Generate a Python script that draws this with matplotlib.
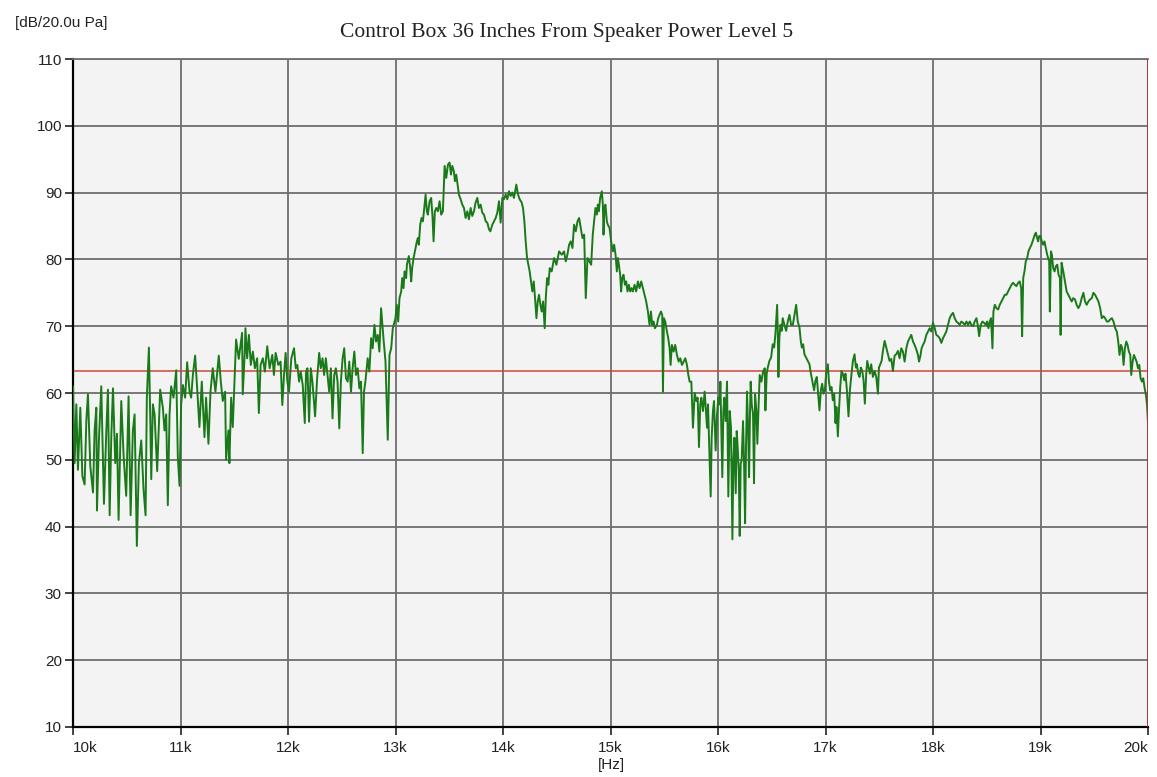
import numpy as np
import matplotlib
matplotlib.use("Agg")
import matplotlib.pyplot as plt

# Schalldruckpegel ueber der Frequenz, Frequenz in kHz, Pegel in dB re 20 uPa
freq_10k = [10.000, 10.015, 10.031, 10.046, 10.068, 10.087, 10.108, 10.124, 10.139, 10.161,
            10.186, 10.201, 10.217, 10.223, 10.241, 10.263, 10.288, 10.310, 10.325, 10.341,
            10.356, 10.372, 10.393, 10.409, 10.424, 10.449, 10.471, 10.495, 10.517, 10.536,
            10.557, 10.573, 10.594, 10.613, 10.635, 10.656, 10.675, 10.687, 10.706, 10.718,
            10.728, 10.743, 10.759, 10.783, 10.811, 10.836, 10.851, 10.867, 10.882, 10.898,
            10.913, 10.935, 10.960, 10.975, 10.991, 11.006, 11.022, 11.043, 11.062, 11.084,
            11.099, 11.115, 11.136, 11.155, 11.176, 11.198, 11.223, 11.238, 11.260, 11.279,
            11.300, 11.325, 11.356, 11.375, 11.393, 11.415, 11.424, 11.446, 11.455, 11.471,
            11.486, 11.502, 11.517, 11.542, 11.573, 11.579, 11.598]
level_10k = [61.0, 49.5, 58.3, 48.5, 57.8, 47.6, 46.3, 55.9, 59.8, 49.0,
             45.1, 54.4, 57.8, 42.4, 52.9, 61.0, 43.4, 54.4, 60.5, 41.7,
             53.4, 60.7, 49.5, 53.9, 41.0, 58.8, 50.5, 44.6, 59.5, 41.7,
             54.4, 56.8, 37.1, 49.5, 52.9, 45.6, 41.7, 59.3, 66.8, 56.8,
             47.1, 58.3, 56.8, 48.3, 60.5, 57.8, 54.4, 56.8, 43.2, 56.8,
             61.0, 59.3, 63.4, 50.5, 46.1, 58.3, 61.2, 59.3, 64.6, 60.2,
             59.3, 62.7, 65.6, 60.7, 54.9, 61.7, 53.4, 59.3, 52.4, 60.2,
             63.7, 60.2, 65.6, 61.7, 58.8, 60.2, 50.0, 54.4, 49.5, 59.3,
             54.9, 61.7, 68.0, 65.1, 69.0, 59.8, 66.1]

freq_12k = [11.604, 11.620, 11.636, 11.654, 11.673, 11.692, 11.713, 11.729, 11.745, 11.766,
            11.785, 11.807, 11.829, 11.854, 11.869, 11.885, 11.910, 11.931, 11.947, 11.963,
            11.978, 11.994, 12.009, 12.031, 12.056, 12.072, 12.087, 12.103, 12.118, 12.137,
            12.156, 12.168, 12.181, 12.196, 12.212, 12.227, 12.252, 12.271, 12.290, 12.305,
            12.321, 12.336, 12.352, 12.368, 12.383, 12.399, 12.414, 12.430, 12.445, 12.461,
            12.477, 12.492, 12.508, 12.523, 12.539, 12.555, 12.570, 12.586, 12.601, 12.617,
            12.632, 12.648, 12.664, 12.679, 12.695, 12.707, 12.720, 12.741, 12.757, 12.773,
            12.788, 12.804, 12.819, 12.835, 12.850, 12.866, 12.888, 12.907, 12.928, 12.944,
            12.960, 12.975]
level_12k = [69.7, 65.2, 68.7, 64.2, 66.2, 63.7, 65.2, 57.0, 64.2, 65.2,
             63.2, 67.0, 63.7, 65.7, 62.7, 66.0, 64.2, 64.7, 58.2, 62.7,
             66.0, 61.7, 60.2, 65.2, 66.7, 63.7, 64.2, 61.7, 63.2, 61.2,
             55.5, 63.2, 63.7, 55.7, 63.7, 61.7, 56.5, 62.2, 66.0, 63.7,
             65.2, 62.7, 65.2, 62.7, 60.2, 63.7, 56.2, 62.7, 63.7, 61.7,
             54.7, 61.7, 65.2, 66.7, 62.2, 61.7, 64.7, 60.2, 63.7, 66.2,
             62.7, 63.7, 60.7, 61.7, 51.0, 60.2, 61.7, 65.2, 63.2, 68.2,
             66.7, 70.2, 67.7, 68.7, 66.2, 72.7, 68.2, 64.7, 53.0, 65.7,
             66.7, 69.7]

freq_13k = [13.000, 13.012, 13.025, 13.037, 13.053, 13.062, 13.075, 13.084, 13.099, 13.106,
            13.124, 13.137, 13.146, 13.155, 13.168, 13.186, 13.199, 13.208, 13.217, 13.230,
            13.242, 13.255, 13.267, 13.280, 13.292, 13.301, 13.317, 13.332, 13.345, 13.354,
            13.366, 13.379, 13.394, 13.410, 13.425, 13.441]
level_13k = [71.2, 73.2, 70.7, 74.2, 75.2, 77.2, 75.7, 78.2, 77.2, 79.2,
             80.5, 78.7, 76.7, 78.7, 80.2, 81.7, 82.7, 83.2, 82.2, 85.2,
             86.2, 85.7, 87.7, 89.7, 87.2, 86.7, 88.7, 89.2, 86.2, 82.7,
             87.2, 87.7, 87.2, 88.7, 86.7, 87.2]

freq_14k = [13.457, 13.472, 13.488, 13.503, 13.516, 13.528, 13.543, 13.553, 13.565, 13.578,
            13.590, 13.606, 13.621, 13.637, 13.652, 13.668, 13.683, 13.699, 13.714, 13.730,
            13.745, 13.761, 13.776, 13.792, 13.807, 13.823, 13.839, 13.854, 13.870, 13.882,
            13.901, 13.916, 13.932, 13.947, 13.963, 13.978, 13.994, 14.009, 14.025, 14.040,
            14.056, 14.071, 14.087, 14.102, 14.124, 14.140, 14.155, 14.174, 14.186, 14.199,
            14.211, 14.224, 14.236, 14.248, 14.261, 14.273, 14.286, 14.298, 14.311, 14.323,
            14.335, 14.348, 14.360, 14.373, 14.388, 14.398, 14.410, 14.422, 14.435, 14.453,
            14.475, 14.497, 14.522, 14.547, 14.568, 14.584, 14.599, 14.615, 14.630, 14.646,
            14.661, 14.677, 14.693, 14.708, 14.724, 14.739, 14.755, 14.770, 14.786]
level_14k = [94.0, 92.2, 94.2, 94.5, 92.7, 94.0, 93.2, 91.7, 92.7, 91.2,
             89.7, 89.0, 88.2, 87.7, 86.2, 87.2, 86.0, 87.7, 86.5, 87.2,
             88.5, 89.2, 87.7, 88.2, 87.0, 86.7, 85.7, 85.5, 84.5, 84.2,
             85.2, 85.7, 86.2, 87.0, 88.7, 85.5, 89.2, 89.0, 89.7, 89.0,
             90.2, 89.5, 90.0, 89.2, 91.2, 89.7, 89.0, 88.5, 87.7, 85.7,
             82.7, 80.2, 79.2, 78.2, 76.7, 75.2, 76.7, 74.2, 71.2, 73.7,
             74.7, 73.2, 72.2, 73.7, 69.7, 74.2, 77.2, 76.2, 78.7, 78.2,
             80.2, 79.2, 81.2, 80.7, 81.2, 79.7, 80.7, 82.2, 82.7, 81.7,
             85.2, 84.2, 85.7, 86.2, 84.7, 83.2, 83.7, 74.2, 80.2]

freq_15k = [14.804, 14.820, 14.835, 14.848, 14.860, 14.873, 14.882, 14.891, 14.904, 14.919,
            14.929, 14.935, 14.944, 14.953, 14.966, 14.975, 14.991, 15.006, 15.022, 15.034,
            15.047, 15.059, 15.068, 15.078, 15.090, 15.099, 15.109, 15.121, 15.134, 15.146,
            15.158, 15.171, 15.183, 15.196, 15.208, 15.224, 15.239, 15.255, 15.270, 15.286,
            15.301, 15.317, 15.332, 15.348, 15.363, 15.376, 15.388, 15.401, 15.413, 15.432,
            15.444, 15.457, 15.469, 15.481, 15.488, 15.497, 15.509, 15.525, 15.537, 15.550,
            15.559, 15.571, 15.587, 15.602, 15.618, 15.634, 15.649, 15.665, 15.680, 15.696,
            15.711, 15.724, 15.736]
level_15k = [79.7, 79.2, 83.7, 85.7, 87.7, 86.7, 88.2, 87.2, 89.2, 90.2,
             88.2, 83.7, 87.7, 88.2, 85.7, 85.2, 84.7, 82.7, 81.2, 82.2,
             80.7, 78.2, 80.2, 79.2, 77.7, 75.2, 77.2, 77.7, 76.2, 76.7,
             75.2, 76.2, 75.2, 75.7, 75.2, 76.2, 75.2, 76.7, 75.7, 76.7,
             75.7, 74.7, 73.7, 72.2, 70.2, 72.2, 70.2, 70.7, 69.7, 70.2,
             71.2, 71.7, 72.2, 71.7, 60.2, 71.2, 70.7, 69.2, 68.2, 66.7,
             64.2, 67.2, 66.2, 67.2, 65.7, 64.7, 65.2, 64.2, 64.7, 65.2,
             64.2, 62.7, 61.7]

freq_16k = [15.752, 15.767, 15.783, 15.798, 15.811, 15.823, 15.835, 15.845, 15.860, 15.876,
            15.888, 15.898, 15.907, 15.916, 15.932, 15.941, 15.953, 15.963, 15.978, 15.991,
            16.003, 16.016, 16.022, 16.031, 16.040, 16.050, 16.059, 16.071, 16.084, 16.096,
            16.109, 16.121, 16.134, 16.143, 16.152, 16.165, 16.174, 16.183, 16.193, 16.202,
            16.211, 16.220, 16.233, 16.242, 16.252, 16.261, 16.270, 16.280, 16.289, 16.298,
            16.304, 16.314, 16.326, 16.335, 16.345, 16.357, 16.366, 16.379, 16.388, 16.404,
            16.419, 16.435]
level_16k = [61.7, 54.8, 60.0, 58.8, 59.3, 51.9, 58.3, 59.3, 57.3, 60.2,
             57.3, 54.8, 58.3, 53.3, 44.5, 53.3, 57.3, 58.8, 51.4, 56.8,
             59.3, 58.3, 61.7, 54.8, 47.4, 57.3, 59.3, 55.8, 61.7, 44.5,
             57.3, 54.8, 38.1, 49.9, 53.3, 45.0, 54.3, 51.9, 48.4, 38.6,
             49.4, 49.9, 55.8, 49.9, 40.5, 52.4, 60.2, 54.8, 47.4, 57.3,
             61.7, 58.3, 56.8, 46.5, 59.8, 57.3, 52.4, 58.8, 62.7, 61.7,
             63.2, 63.7]

freq_17k = [16.441, 16.453, 16.463, 16.478, 16.494, 16.509, 16.522, 16.534, 16.550, 16.556,
            16.562, 16.571, 16.581, 16.593, 16.602, 16.618, 16.634, 16.649, 16.665, 16.680,
            16.696, 16.711, 16.727, 16.742, 16.758, 16.770, 16.780, 16.792, 16.804, 16.820,
            16.835, 16.851, 16.860, 16.870, 16.882, 16.894, 16.907, 16.919, 16.932, 16.944,
            16.957, 16.969, 16.981, 16.994, 17.006, 17.022, 17.031, 17.043, 17.056, 17.068,
            17.081, 17.093, 17.102, 17.115, 17.124, 17.137, 17.149, 17.161, 17.174, 17.186,
            17.199, 17.214, 17.227, 17.239, 17.255, 17.270, 17.283, 17.292, 17.304, 17.317,
            17.329, 17.342, 17.354, 17.366, 17.379, 17.388, 17.401, 17.413, 17.425, 17.441,
            17.457, 17.472, 17.488, 17.497, 17.509, 17.522, 17.534, 17.550, 17.565, 17.581,
            17.596, 17.612, 17.627, 17.643, 17.658, 17.674]
level_17k = [57.4, 62.9, 63.8, 64.8, 65.3, 67.3, 66.8, 68.8, 73.2, 69.3,
             62.4, 68.3, 70.2, 69.3, 71.2, 70.2, 69.3, 70.7, 71.7, 70.2,
             70.2, 71.7, 73.2, 70.7, 69.8, 67.8, 66.8, 67.3, 65.8, 65.3,
             64.8, 64.3, 63.3, 62.4, 61.4, 60.4, 61.9, 62.4, 59.9, 57.4,
             60.4, 61.4, 59.9, 60.4, 62.9, 64.3, 61.9, 60.4, 60.9, 58.9,
             59.9, 55.5, 57.9, 53.5, 56.9, 60.9, 63.3, 62.9, 61.9, 62.9,
             60.4, 56.5, 60.4, 62.4, 64.8, 65.8, 63.8, 64.3, 62.9, 62.4,
             63.8, 63.3, 61.9, 58.4, 62.9, 64.8, 63.8, 62.9, 64.3, 62.4,
             63.3, 62.4, 59.9, 63.8, 64.3, 64.8, 66.3, 67.8, 66.8, 65.8,
             64.8, 65.1, 63.3, 65.6, 65.8, 66.3]

freq_18k = [17.689, 17.705, 17.720, 17.736, 17.752, 17.767, 17.783, 17.798, 17.814, 17.829,
            17.845, 17.860, 17.870, 17.882, 17.894, 17.907, 17.922, 17.938, 17.953, 17.969,
            17.984, 18.000, 18.016, 18.031, 18.047, 18.062, 18.078, 18.093, 18.109, 18.124,
            18.140, 18.155, 18.171, 18.186, 18.202, 18.217, 18.233, 18.248, 18.264, 18.280,
            18.295, 18.311, 18.326, 18.342, 18.357, 18.373, 18.388, 18.404, 18.416, 18.429,
            18.444, 18.460, 18.475, 18.491, 18.503, 18.516, 18.528, 18.540, 18.553, 18.562,
            18.575, 18.590, 18.606, 18.621, 18.637, 18.652, 18.668, 18.683, 18.699, 18.714,
            18.730, 18.745, 18.761, 18.776, 18.792, 18.807, 18.820, 18.829, 18.839, 18.851,
            18.863, 18.876, 18.888, 18.901, 18.916, 18.932, 18.947, 18.957]
level_18k = [65.2, 66.7, 66.2, 64.7, 66.7, 67.7, 68.2, 68.7, 67.7, 67.2,
             66.5, 65.7, 64.7, 65.5, 66.7, 67.2, 67.7, 68.7, 69.2, 69.7,
             69.2, 70.5, 69.7, 68.7, 68.5, 68.2, 67.5, 68.2, 68.7, 69.2,
             70.2, 71.2, 71.7, 72.0, 71.2, 70.7, 70.5, 70.2, 70.7, 70.5,
             70.2, 70.7, 70.2, 70.7, 70.2, 70.0, 70.7, 71.2, 70.2, 68.5,
             70.2, 70.7, 70.5, 70.2, 70.7, 69.7, 70.7, 71.2, 66.7, 72.2,
             73.2, 72.7, 72.5, 73.2, 73.7, 74.2, 74.7, 74.7, 75.2, 75.7,
             76.2, 76.5, 76.2, 76.0, 76.5, 76.7, 75.7, 68.5, 77.2, 78.2,
             79.7, 80.2, 81.2, 81.7, 82.2, 83.0, 83.7, 84.0]

freq_19k = [18.969, 18.978, 18.988, 19.000, 19.012, 19.025, 19.037, 19.050, 19.062, 19.072,
            19.081, 19.087, 19.097, 19.106, 19.118, 19.131, 19.143, 19.156, 19.168, 19.181,
            19.187, 19.196, 19.212, 19.227, 19.243, 19.259, 19.274, 19.290, 19.305, 19.321,
            19.336, 19.352, 19.368, 19.383, 19.399, 19.414, 19.430, 19.445, 19.461, 19.477,
            19.492, 19.508, 19.523, 19.539, 19.555, 19.570, 19.586, 19.601, 19.617, 19.632,
            19.648, 19.664, 19.679, 19.695, 19.710, 19.723, 19.735, 19.748, 19.760, 19.773,
            19.785, 19.798, 19.810, 19.822, 19.835, 19.844, 19.857, 19.869, 19.882, 19.894,
            19.907, 19.919, 19.931, 19.944, 19.956, 19.969, 19.981, 19.991, 20.000]
level_19k = [83.2, 82.7, 83.5, 83.5, 82.7, 82.2, 82.7, 81.7, 80.7, 80.2,
             79.7, 72.2, 81.2, 80.7, 78.7, 78.2, 79.0, 79.2, 77.7, 77.2,
             68.7, 79.5, 78.2, 76.7, 75.2, 74.7, 74.2, 73.7, 74.2, 74.0,
             73.2, 72.7, 73.2, 74.2, 75.0, 73.7, 73.2, 73.7, 74.0, 74.2,
             75.0, 74.7, 74.2, 73.7, 72.7, 71.2, 71.5, 71.2, 70.7, 70.7,
             71.0, 71.2, 70.7, 69.7, 69.2, 67.7, 65.7, 67.2, 66.7, 64.2,
             66.7, 67.7, 67.2, 66.2, 65.7, 62.7, 64.7, 65.7, 65.2, 64.7,
             63.7, 64.2, 62.2, 61.7, 62.2, 60.7, 59.7, 58.2, 55.5]

referenz_db = 63.3      # waagrechte Referenzlinie
cursor_khz = 20.0       # senkrechter Cursor am rechten Rand
x_ticks = [10, 11, 12, 13, 14, 15, 16, 17, 18, 19, 20]
x_labels = ["10k", "11k", "12k", "13k", "14k", "15k", "16k", "17k", "18k", "19k", "20k"]
y_ticks = [10, 20, 30, 40, 50, 60, 70, 80, 90, 100, 110]

freq = np.concatenate([freq_10k, freq_12k, freq_13k, freq_14k, freq_15k,
                       freq_16k, freq_17k, freq_18k, freq_19k])
level = np.concatenate([level_10k, level_12k, level_13k, level_14k, level_15k,
                        level_16k, level_17k, level_18k, level_19k])

plt.rcParams["font.family"] = ["Liberation Sans", "DejaVu Sans"]

fig = plt.figure(figsize=(11.57, 7.77), dpi=100)
ax = fig.add_axes([73 / 1157, 1 - 727 / 777, 1075 / 1157, 668 / 777])
ax.set_facecolor("#f3f3f3")

ax.plot(freq, level, color="#1a7a1a", linewidth=1.4, zorder=3)
ax.axhline(referenz_db, color="#d0473a", linewidth=1.1, zorder=2)
ax.axvline(cursor_khz, color="#b0303c", linewidth=2.0, zorder=4)

ax.set_xlim(10, 20)
ax.set_ylim(10, 110)
ax.set_xticks(x_ticks)
ax.set_xticklabels(x_labels)
ax.set_yticks(y_ticks)
ax.grid(True, color="#6e6e6e", linewidth=1.3, zorder=1)
ax.set_axisbelow(True)
ax.tick_params(axis="both", direction="out", length=6, width=1.2, labelsize=11,
               color="#222222", labelcolor="#222222")
ax.tick_params(axis="x", pad=4)
ax.tick_params(axis="y", pad=2)

# erstes und letztes Frequenzlabel bleiben innerhalb des Rahmens
tick_texte = ax.get_xticklabels()
tick_texte[0].set_horizontalalignment("left")
tick_texte[-1].set_horizontalalignment("right")

for side in ["left", "bottom"]:
    ax.spines[side].set_color("black")
    ax.spines[side].set_linewidth(1.6)
ax.spines["top"].set_color("#6e6e6e")
ax.spines["top"].set_linewidth(1.3)
ax.spines["right"].set_visible(False)

fig.text(15 / 1157, 1 - 23 / 777, "[dB/20.0u Pa]", fontsize=11, va="center", ha="left",
         color="#222222")
fig.text(340 / 1157, 1 - 33 / 777, "Control Box 36 Inches From Speaker Power Level 5",
         fontsize=15.5, va="center", ha="left", family="Liberation Serif", color="#222222")
fig.text(611 / 1157, 1 - 765 / 777, "[Hz]", fontsize=11, va="center", ha="center",
         color="#222222")

fig.savefig("out.png", dpi=100)
